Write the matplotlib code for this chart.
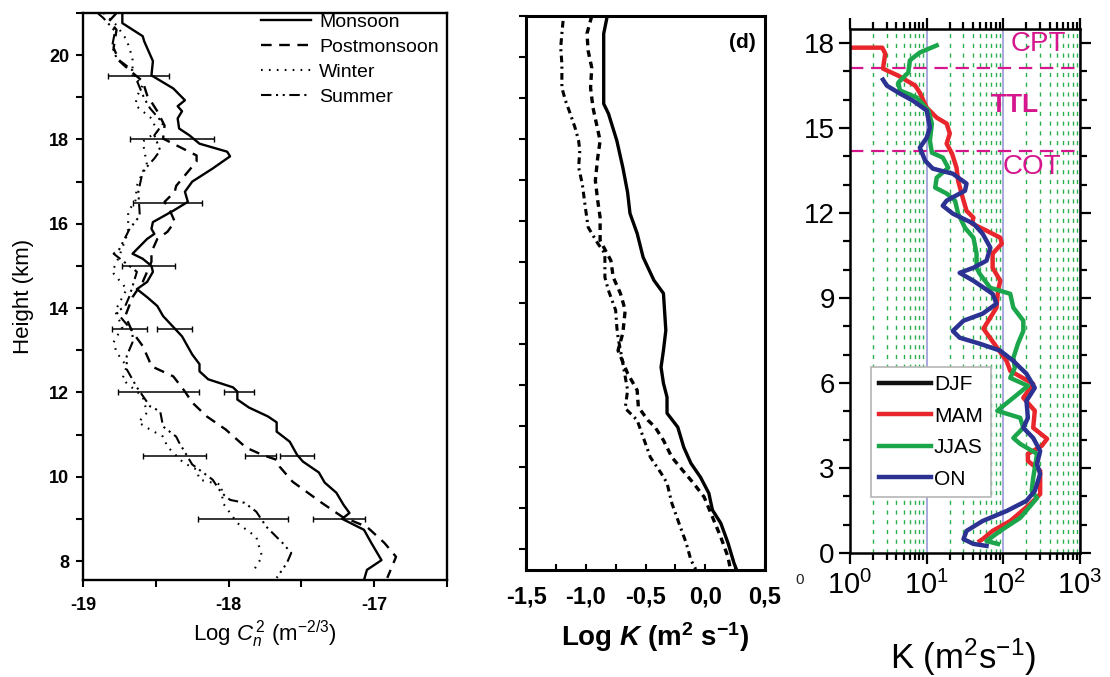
import matplotlib
matplotlib.use("Agg")
import matplotlib.pyplot as plt
from matplotlib.ticker import MultipleLocator, LogLocator, NullFormatter

plt.rcParams['font.family'] = ['Liberation Sans', 'DejaVu Sans']
plt.rcParams['axes.unicode_minus'] = False
plt.rcParams['mathtext.fontset'] = 'custom'
plt.rcParams['mathtext.rm'] = 'Liberation Sans'
plt.rcParams['mathtext.it'] = 'Liberation Sans:italic'
plt.rcParams['mathtext.bf'] = 'Liberation Sans:bold'
try:
    plt.rcParams['mathtext.bfit'] = 'Liberation Sans:bold:italic'
except KeyError:
    pass

# ---------------- Panel (left): Log Cn^2 profiles by season ----------------
season_labels = ['Monsoon', 'Postmonsoon', 'Winter', 'Summer']

monsoon_h = [21.0, 20.76, 20.45, 20.33, 19.86, 19.52, 19.21, 18.93, 18.79, 18.67, 18.50, 18.26,
             18.10, 17.90, 17.71, 17.60, 17.31, 17.00, 16.76, 16.52, 16.31, 16.04, 15.88, 15.76,
             15.64, 15.29, 15.17, 15.00, 14.86, 14.62, 14.45, 14.26, 14.05, 13.81, 13.33, 12.90,
             12.67, 12.50, 12.31, 12.12, 12.02, 11.83, 11.64, 11.43, 11.29, 11.07, 10.83, 10.52,
             10.36, 10.10, 9.86, 9.62, 9.33, 9.14, 9.00, 8.74, 8.43, 8.02, 7.79, 7.55]
monsoon_c = [-18.73, -18.73, -18.59, -18.58, -18.52, -18.53, -18.38, -18.30, -18.35, -18.32, -18.35,
             -18.34, -18.27, -18.20, -18.01, -17.99, -18.11, -18.25, -18.30, -18.28, -18.38, -18.52,
             -18.53, -18.51, -18.56, -18.66, -18.59, -18.53, -18.52, -18.56, -18.63, -18.56, -18.49,
             -18.45, -18.32, -18.25, -18.20, -18.20, -18.14, -17.97, -17.94, -17.94, -17.86, -17.73,
             -17.67, -17.67, -17.58, -17.53, -17.49, -17.38, -17.34, -17.26, -17.21, -17.17, -17.22,
             -17.07, -17.02, -16.95, -17.05, -17.07]

postmonsoon_h = [21.0, 20.81, 20.6, 20.17, 19.86, 19.64, 19.38, 19.05, 18.67, 18.33, 18.02, 17.62,
                 17.48, 17.19, 16.90, 16.76, 16.52, 16.29, 16.05, 15.81, 15.64, 15.33, 15.10, 14.62,
                 14.26, 13.81, 13.43, 13.10, 12.79, 12.62, 12.38, 12.02, 11.76, 11.43, 11.12, 10.69,
                 10.52, 10.40, 10.24, 9.88, 9.38, 9.05, 8.81, 8.43, 8.10, 7.60]
postmonsoon_c = [-18.77, -18.82, -18.77, -18.79, -18.75, -18.68, -18.59, -18.56, -18.49, -18.44,
                 -18.45, -18.22, -18.22, -18.29, -18.36, -18.37, -18.44, -18.40, -18.37, -18.42,
                 -18.49, -18.53, -18.53, -18.59, -18.66, -18.71, -18.66, -18.59, -18.55, -18.53,
                 -18.38, -18.30, -18.25, -18.15, -18.02, -17.88, -17.77, -17.67, -17.65, -17.56,
                 -17.36, -17.22, -17.05, -16.93, -16.85, -16.91]

winter_h = [21.0, 20.71, 20.36, 19.93, 19.52, 19.29, 19.02, 18.81, 18.50, 18.19, 17.95, 17.38, 17.07,
            16.90, 16.55, 16.29, 15.81, 15.24, 14.86, 14.45, 13.93, 13.55, 13.19, 12.95, 12.62, 12.31,
            11.90, 11.52, 11.29, 11.12, 10.95, 10.71, 10.33, 10.17, 9.93, 9.81, 9.38, 8.90, 8.57,
            8.10, 7.71]
winter_c = [-18.86, -18.77, -18.70, -18.66, -18.66, -18.59, -18.63, -18.64, -18.53, -18.49, -18.59,
            -18.56, -18.61, -18.63, -18.64, -18.69, -18.69, -18.75, -18.80, -18.70, -18.78, -18.73,
            -18.79, -18.77, -18.70, -18.73, -18.59, -18.56, -18.62, -18.54, -18.45, -18.42, -18.31,
            -18.22, -18.20, -18.05, -18.04, -17.94, -17.81, -17.77, -17.84]

summer_h = [21.0, 20.88, 20.57, 20.21, 19.93, 19.64, 18.98, 18.74, 18.38, 18.10, 17.74, 17.55, 17.24,
            16.76, 16.19, 15.88, 15.40, 15.29, 14.86, 14.29, 14.05, 13.90, 13.45, 13.19, 12.86, 12.55,
            12.12, 11.67, 11.55, 11.19, 10.95, 10.81, 10.29, 9.93, 9.62, 9.45, 9.38, 9.17, 8.81,
            8.43, 8.19, 7.95, 7.60]
summer_c = [-18.90, -18.86, -18.78, -18.80, -18.77, -18.66, -18.58, -18.54, -18.45, -18.51, -18.47,
            -18.51, -18.59, -18.62, -18.61, -18.68, -18.75, -18.79, -18.63, -18.68, -18.71, -18.77,
            -18.66, -18.66, -18.70, -18.70, -18.63, -18.54, -18.47, -18.45, -18.36, -18.34, -18.25,
            -18.11, -18.05, -17.99, -17.89, -17.81, -17.74, -17.63, -17.57, -17.60, -17.67]

errbar_h = [19.5, 18.0, 16.5, 15.0, 13.5, 13.5, 12.0, 12.0, 10.5, 10.5, 10.5, 9.0, 9.0]
errbar_c = [-18.62, -18.39, -18.42, -18.55, -18.68, -18.37, -18.48, -17.93, -18.37, -17.78, -17.53,
            -17.90, -17.24]
errbar_w = [0.21, 0.29, 0.24, 0.18, 0.12, 0.12, 0.28, 0.105, 0.215, 0.105, 0.115, 0.31, 0.18]

# ---------------- Panel (d): Log K profiles ----------------
k1_h = [14.0, 13.57, 11.86, 11.62, 10.96, 10.31, 9.70, 9.19, 8.70, 8.12, 7.56, 7.24, 6.34, 5.85,
        5.44, 5.05, 4.71, 4.32, 3.98, 3.49, 3.10, 2.76, 2.37, 1.96, 1.64, 1.16, 0.67, 0.52]
k1_logk = [-0.82, -0.85, -0.85, -0.81, -0.74, -0.69, -0.65, -0.63, -0.57, -0.52, -0.43, -0.35,
           -0.33, -0.35, -0.37, -0.35, -0.32, -0.32, -0.23, -0.18, -0.12, -0.04, 0.03, 0.06, 0.13,
           0.19, 0.24, 0.26]
k2_h = [14.0, 13.57, 13.15, 12.74, 12.25, 11.77, 10.96, 10.55, 9.99, 9.50, 9.09, 8.53, 8.04, 7.63,
        7.24, 6.83, 6.27, 5.85, 5.29, 4.88, 4.47, 4.15, 3.98, 3.66, 3.25, 2.93, 2.62, 2.28, 1.79,
        1.30, 0.82, 0.52]
k2_logk = [-0.95, -0.99, -0.98, -0.95, -0.96, -0.94, -0.88, -0.90, -0.92, -0.90, -0.88, -0.88,
           -0.79, -0.77, -0.71, -0.67, -0.69, -0.73, -0.65, -0.57, -0.56, -0.48, -0.42, -0.35,
           -0.28, -0.19, -0.10, -0.01, 0.06, 0.13, 0.19, 0.21]
k3_h = [13.88, 13.57, 13.23, 12.84, 12.25, 11.94, 11.62, 11.28, 10.96, 10.72, 10.31, 9.92, 9.26,
        8.85, 8.46, 8.21, 7.63, 7.31, 6.83, 6.41, 6.17, 5.54, 4.88, 4.44, 4.15, 3.74, 3.25, 2.86,
        2.62, 2.13, 1.64, 1.16, 0.74, 0.52]
k3_logk = [-1.19, -1.20, -1.21, -1.20, -1.20, -1.17, -1.13, -1.09, -1.06, -1.05, -1.06, -1.03,
           -1.00, -0.98, -0.90, -0.84, -0.84, -0.81, -0.75, -0.74, -0.73, -0.69, -0.65, -0.67,
           -0.57, -0.52, -0.46, -0.37, -0.32, -0.28, -0.22, -0.16, -0.12, -0.08]
logk_ticks = [-1.5, -1.0, -0.5, 0.0, 0.5]
logk_ticklabels = ['-1,5', '-1,0', '-0,5', '0,0', '0,5']

# ---------------- Panel (right): K profiles by season ----------------
kseason_labels = ['DJF', 'MAM', 'JJAS', 'ON']
kseason_colors = ['#111111', '#e8262c', '#1ca64c', '#2b3292']

mam_h = [17.84, 17.84, 17.63, 17.10, 16.85, 16.50, 16.25, 15.72, 15.37, 15.16, 14.81, 14.45, 14.10,
         13.60, 13.14, 12.54, 12.08, 11.84, 11.63, 11.38, 11.13, 10.92, 10.57, 10.07, 9.61, 9.26,
         8.66, 7.92, 6.78, 6.43, 5.97, 5.48, 5.02, 4.42, 4.03, 3.78, 3.50, 3.25, 2.90, 2.08, 1.73,
         1.13, 0.78, 0.49, 0.42]
mam_k = [1.0, 2.63, 2.88, 2.69, 4.27, 7.08, 8.13, 10.0, 13.5, 18.2, 20.0, 18.2, 21.4, 24.5, 25.7,
         29.5, 33.1, 40.7, 38.9, 60.3, 91.2, 95.5, 72.4, 72.4, 91.2, 85.1, 81.3, 55.0, 110, 123, 245,
         182, 257, 245, 372, 316, 209, 209, 302, 302, 224, 123, 72.4, 53.7, 49.0]

jjas_h = [17.92, 17.67, 17.39, 16.96, 16.61, 16.33, 16.08, 15.62, 15.16, 14.56, 14.13, 13.96, 13.60,
          13.25, 12.90, 12.69, 12.44, 11.98, 11.48, 11.13, 10.57, 10.07, 9.86, 9.36, 9.15, 8.66,
          8.20, 7.84, 7.39, 6.89, 6.54, 6.18, 5.90, 5.48, 5.02, 4.77, 4.42, 4.06, 3.85, 3.50, 2.65,
          2.19, 1.94, 1.24, 0.78, 0.42, 0.32]
jjas_k = [13.5, 8.13, 6.03, 5.75, 4.27, 4.47, 7.41, 10.5, 11.7, 11.0, 11.7, 16.2, 19.1, 13.5, 12.9,
          18.2, 23.4, 25.7, 31.6, 40.7, 44.7, 44.7, 49.0, 67.6, 123, 135, 182, 182, 155, 135, 141,
          123, 209, 135, 83.2, 166, 182, 135, 166, 275, 245, 234, 275, 166, 91.2, 60.3, 85.1]

on_h = [16.71, 16.50, 16.22, 15.97, 15.62, 15.02, 14.66, 14.31, 13.85, 13.57, 13.39, 13.04, 12.79,
        12.44, 12.26, 11.98, 11.63, 11.27, 10.78, 10.32, 10.07, 9.89, 9.61, 9.15, 8.80, 8.45, 8.20,
        7.84, 7.60, 7.39, 7.14, 6.78, 6.54, 6.33, 5.83, 5.37, 4.77, 4.42, 4.06, 3.60, 3.14, 2.79,
        2.44, 2.19, 1.84, 1.48, 1.13, 0.78, 0.49, 0.32, 0.25]
on_k = [2.69, 3.02, 4.47, 6.61, 10.0, 11.0, 10.0, 8.13, 9.55, 12.0, 21.9, 33.1, 31.6, 18.2, 16.2,
        21.9, 40.7, 53.7, 67.6, 60.3, 40.7, 26.9, 40.7, 72.4, 81.3, 53.7, 30.2, 21.9, 26.9, 49.0,
        91.2, 135, 166, 200, 257, 200, 209, 182, 245, 302, 275, 302, 275, 257, 200, 110, 53.7, 33.1,
        30.2, 40.7, 60.3]

layer_names = ['CPT', 'TTL', 'COT']
layer_bounds = [17.12, 14.18]
magenta = '#d5168d'

fig = plt.figure(figsize=(11.1, 6.77), dpi=100)

# ================= left panel =================
ax1 = fig.add_axes([0.0748, 0.1433, 0.3279, 0.8375])
l1, = ax1.plot(monsoon_c, monsoon_h, color='k', lw=1.7)
l2, = ax1.plot(postmonsoon_c, postmonsoon_h, color='k', lw=1.7, ls=(0, (4.5, 3.2)))
l3, = ax1.plot(winter_c, winter_h, color='k', lw=1.5, ls=(0, (0.8, 3.0)))
l4, = ax1.plot(summer_c, summer_h, color='k', lw=1.5, ls=(0, (5, 2.2, 1, 2.2, 1, 2.2)))
ax1.errorbar(errbar_c, errbar_h, xerr=errbar_w, fmt='none', ecolor='k', elinewidth=1.1,
             capsize=2, capthick=1.0)
ax1.set_xlim(-19, -16.5)
ax1.set_ylim(7.55, 21)
ax1.xaxis.set_major_locator(MultipleLocator(1))
ax1.xaxis.set_minor_locator(MultipleLocator(0.5))
ax1.yaxis.set_major_locator(MultipleLocator(2))
ax1.yaxis.set_minor_locator(MultipleLocator(1))
ax1.tick_params(which='both', direction='out', width=1.5, labelsize=13)
ax1.tick_params(which='major', length=5)
ax1.tick_params(which='minor', length=5)
ax1.tick_params(axis='x', pad=7)
ax1.tick_params(axis='y', pad=5)
for lab in ax1.get_xticklabels() + ax1.get_yticklabels():
    lab.set_fontweight('bold')
for sp in ax1.spines.values():
    sp.set_linewidth(1.7)
ax1.set_xlabel(r'Log $C_n^{\,2}$ (m$^{-2/3}$)', fontsize=16)
ax1.xaxis.set_label_coords(0.5, -0.068)
ax1.set_ylabel('Height (km)', fontsize=16)
ax1.yaxis.set_label_coords(-0.135, 0.5)
ax1.legend([l1, l2, l3, l4], season_labels, loc='upper left', bbox_to_anchor=(0.488, 0.999),
           frameon=False, fontsize=14, handlelength=2.6, handletextpad=0.4, labelspacing=0.38,
           borderpad=0, borderaxespad=0)

# ================= middle panel (d) =================
ax2 = fig.add_axes([0.4739, 0.1581, 0.2153, 0.8183])
ax2.plot(k1_logk, k1_h, color='k', lw=2.4)
ax2.plot(k2_logk, k2_h, color='k', lw=2.4, ls=(0, (2.0, 1.5)))
ax2.plot(k3_logk, k3_h, color='k', lw=2.2, ls=(0, (2.2, 1.4, 0.7, 1.4)))
ax2.set_xlim(-1.5, 0.5)
ax2.set_ylim(0.5, 14)
ax2.set_xticks(logk_ticks, logk_ticklabels)
ax2.xaxis.set_minor_locator(MultipleLocator(0.25))
ax2.yaxis.set_major_locator(MultipleLocator(1))
ax2.tick_params(axis='x', which='both', direction='in', length=4, width=1.5, pad=11,
                labelsize=17)
ax2.tick_params(axis='y', which='both', direction='out', length=5, width=1.5, labelleft=False)
for lab in ax2.get_xticklabels():
    lab.set_fontweight('bold')
for sp in ax2.spines.values():
    sp.set_linewidth(2.2)
ax2.set_xlabel(r'Log $\mathbfit{K}$ (m$^{\mathbf{2}}$ s$^{\mathbf{-1}}$)', fontsize=20,
               fontweight='bold')
ax2.xaxis.set_label_coords(0.54, -0.09)
ax2.text(0.905, 0.953, '(d)', transform=ax2.transAxes, ha='center', va='center',
         fontsize=15, fontweight='bold')

# ================= right panel =================
ax3 = fig.add_axes([0.7658, 0.1832, 0.2072, 0.774])
ax3.set_xscale('log')
ax3.set_xlim(1, 1000)
ax3.set_ylim(0, 18.5)
ax3.xaxis.set_major_locator(LogLocator(base=10, numticks=10))
ax3.xaxis.set_minor_locator(LogLocator(base=10, subs=range(2, 10), numticks=40))
ax3.xaxis.set_minor_formatter(NullFormatter())
ax3.grid(True, which='minor', axis='x', color='#2bb04e', ls=(0, (3, 4)), lw=1.0)
ax3.grid(True, which='major', axis='x', color='#9a9ad8', ls='-', lw=1.2)
ax3.set_axisbelow(True)
for yb in layer_bounds:
    ax3.axhline(yb, color=magenta, lw=1.6, ls=(0, (6, 3.5)), zorder=2)

ax3.plot([], [], color=kseason_colors[0], lw=3.2, label=kseason_labels[0])
ax3.plot(mam_k, mam_h, color=kseason_colors[1], lw=3.2, solid_joinstyle='round',
         label=kseason_labels[1])
ax3.plot(jjas_k, jjas_h, color=kseason_colors[2], lw=3.2, solid_joinstyle='round',
         label=kseason_labels[2])
ax3.plot(on_k, on_h, color=kseason_colors[3], lw=3.2, solid_joinstyle='round',
         label=kseason_labels[3])

ax3.yaxis.set_major_locator(MultipleLocator(3))
ax3.yaxis.set_minor_locator(MultipleLocator(1))
ax3.tick_params(which='both', direction='out', top=True, right=True, width=1.6)
ax3.tick_params(which='major', length=8)
ax3.tick_params(which='minor', length=5)
ax3.tick_params(axis='y', labelsize=20, pad=3)
ax3.tick_params(axis='x', labelsize=21, pad=5)
for sp in ax3.spines.values():
    sp.set_linewidth(1.8)

ax3.text(0.817, 0.971, layer_names[0], transform=ax3.transAxes, color=magenta, fontsize=20,
         ha='center', va='center')
ax3.text(0.717, 0.855, layer_names[1], transform=ax3.transAxes, color=magenta, fontsize=19,
         fontweight='bold', ha='center', va='center')
ax3.text(0.791, 0.737, layer_names[2], transform=ax3.transAxes, color=magenta, fontsize=20,
         ha='center', va='center')

leg = ax3.legend(loc='upper left', bbox_to_anchor=(0.091, 0.355), fontsize=15,
                 handlelength=2.5, handletextpad=0.12, labelspacing=0.6, borderpad=0.4,
                 borderaxespad=0, fancybox=False, framealpha=1, edgecolor='#b5b5b5')
leg.get_frame().set_linewidth(1.2)

ax3.set_xlabel(r'K (m$^2$s$^{-1}$)', fontsize=25)
ax3.xaxis.set_label_coords(0.49, -0.16)

fig.text(800 / 1110, 1 - 580 / 677, '0', fontsize=11, ha='center', va='center', color='#222222')

fig.savefig('out.png', dpi=100, facecolor='white')
